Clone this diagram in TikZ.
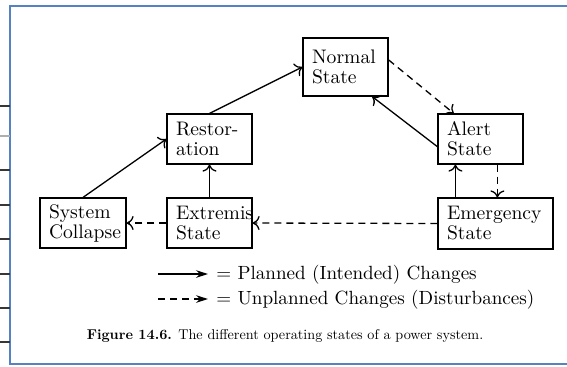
\documentclass[tikz,border=0pt]{standalone}
\usepackage{graphicx}
\usetikzlibrary{arrows.meta,calc}
\definecolor{frameblue}{RGB}{84,130,194}
\definecolor{tickdark}{RGB}{55,55,55}
\definecolor{ticklight}{RGB}{175,175,175}
\hyphenpenalty=10000
\exhyphenpenalty=10000
\begin{document}
\begin{tikzpicture}[x=0.5pt,y=-0.5pt,
  box/.style={draw,line width=0.6pt,rectangle,inner xsep=4.5pt,inner ysep=0pt,
    align=left,font=\fontsize{9.8}{10}\selectfont,anchor=center},
  flow/.style={line width=0.65pt,-{To[length=3.5pt,width=7pt]}},
  dist/.style={flow,dash pattern=on 3.5pt off 2.5pt},
  legendarrow/.style={line width=0.65pt,-{Stealth[length=6pt,width=3.8pt,inset=2pt]}},
  legendtext/.style={anchor=base west,inner sep=0pt,font=\fontsize{9.55}{11}\selectfont},
  frame/.style={draw=frameblue,line width=1.1pt},
  tickmark/.style={line width=1pt}]
\useasboundingbox (0,0) rectangle (567,366);
% frame and left tick marks
\draw[frame] (567,6) -- (10,6) -- (10,364) -- (567,364);
\foreach \yy in {106,170,205,239,274,308,342} \draw[tickmark,draw=tickdark] (0,\yy) -- (9.5,\yy);
\draw[tickmark,draw=ticklight] (0,136) -- (9.5,136);
% states
\node[box,text width=33.5pt,minimum height=29pt] (normal) at (345.5,67) {Normal\\State};
\node[box,text width=33.5pt,minimum height=25pt] (rest) at (209.5,139) {Restor-\\ation};
\node[box,text width=34pt,minimum height=25pt] (coll) at (83,223) {System\\Collapse};
\node[box,text width=33.5pt,minimum height=25pt] (extr) at (209.5,223) {Extremis\\State};
\node[box,text width=33.5pt,minimum height=25pt] (alert) at (480.5,139) {Alert\\State};
\node[box,text width=48.5pt,minimum height=25.5pt] (emer) at (495.5,223.5) {Emergency\\State};
% planned changes
\draw[flow] (coll.north) -- (rest.west);
\draw[flow] (rest.north) -- (normal.west);
\draw[flow] (extr.north) -- (rest.south);
\draw[flow] ($(alert.west)!0.3!(alert.south west)$) -- ($(normal.south)!0.62!(normal.south east)$);
\draw[flow] ($(emer.north west)+(18,0)$) coordinate (e1) -- (e1 |- alert.south);
% unplanned changes
\draw[dist] ($(normal.east)!0.24!(normal.north east)$) -- ($(alert.north)!0.62!(alert.north west)$);
\draw[dist] ($(alert.south west)+(60,0)$) coordinate (a1) -- (a1 |- emer.north);
\draw[dist] (emer.west) -- (extr.east);
\draw[dist] (extr.west) -- (coll.east);
% legend
\coordinate (ls1) at (158,274);
\coordinate (le1) at (208,274);
\coordinate (ls2) at (158,299);
\coordinate (le2) at (208,299);
\draw[legendarrow] (ls1) -- (le1);
\draw[legendarrow,dash pattern=on 3.5pt off 2.5pt] (ls2) -- (le2);
\node[legendtext] (lt1) at (216,279) {= Planned (Intended) Changes};
\node[legendtext] (lt2) at (216,304) {= Unplanned Changes (Disturbances)};
% caption
\node[anchor=base,inner sep=0pt] (cap) at (285,339)
  {\scalebox{0.71}{\fontsize{10}{12}\selectfont\textbf{Figure 14.6.} The different operating states of a power system.}};
\end{tikzpicture}
\end{document}
